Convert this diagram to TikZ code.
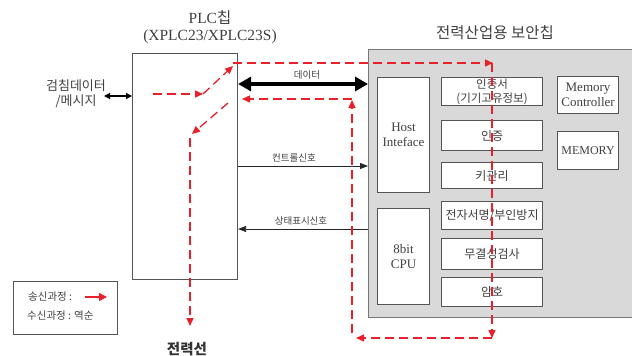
\documentclass[tikz,border=0pt]{standalone}
\usepackage{fontspec}
\setmainfont{Liberation Serif}
\newfontfamily\kr{Noto Sans CJK KR}
\usetikzlibrary{arrows.meta}
\definecolor{txt}{HTML}{404040}
\definecolor{edge}{HTML}{555555}
\definecolor{chip}{HTML}{D9D9D9}
\definecolor{rd}{HTML}{E8202A}
\tikzset{
  box/.style={draw=edge, line width=1.1pt, fill=white, anchor=north west, inner sep=0pt, align=center, text=txt},
  rdash/.style={draw=rd, line width=1.3pt, dash pattern=on 9pt off 5pt, -{Triangle[length=8pt,width=7pt]}},
  thin/.style={draw=black!85, line width=0.8pt, -{Triangle[length=8pt,width=6pt]}},
  lbl/.style={text=txt, inner sep=0pt},
}
\begin{document}
\begin{tikzpicture}[x=1pt,y=-1pt]
\useasboundingbox (0,0) rectangle (632,356);
\clip (0,0) rectangle (632,356);
% titles
\node[lbl, font=\fontsize{15.5}{17}\selectfont, align=center] (plct) at (210,27) {PLC{\kr 칩}\\(XPLC23/XPLC23S)};
\node[lbl, font=\kr\fontsize{15.5}{17}\selectfont] (chipt) at (495,33) {전력산업용 보안칩};
% PLC box
\node[box, minimum width=105pt, minimum height=226pt] (plc) at (132,53) {};
% security chip
\node[draw=edge!80, line width=1.3pt, fill=chip, anchor=north west, minimum width=290pt, minimum height=268pt, inner sep=0pt] (chip) at (368,49) {};
% inner boxes
\node[box, minimum width=52pt, minimum height=115pt, font=\fontsize{13}{15}\selectfont] (host) at (377,77) {Host\\Inteface};
\node[box, minimum width=52pt, minimum height=96pt, font=\fontsize{13}{15}\selectfont] (cpu) at (377,208) {8bit\\CPU};
\node[box, minimum width=101pt, minimum height=28pt, font=\kr\fontsize{11.5}{14}\selectfont] (cert) at (441,77) {인증서\\(기기고유정보)};
\node[box, minimum width=101pt, minimum height=30pt, font=\kr\fontsize{12}{14}\selectfont] (auth) at (441,120) {인증};
\node[box, minimum width=101pt, minimum height=26pt, font=\kr\fontsize{12}{14}\selectfont] (key) at (441,162) {키관리};
\node[box, minimum width=101pt, minimum height=28pt, font=\kr\fontsize{12}{14}\selectfont] (sig) at (441,201) {전자서명/부인방지};
\node[box, minimum width=101pt, minimum height=31pt, font=\kr\fontsize{12}{14}\selectfont] (integ) at (441,238) {무결성검사};
\node[box, minimum width=101pt, minimum height=29pt, font=\kr\fontsize{12}{14}\selectfont] (enc) at (441,277) {암호};
\node[box, minimum width=61pt, minimum height=37pt, font=\fontsize{13}{14.5}\selectfont] (memc) at (557,76) {Memory\\Controller};
\node[box, minimum width=61pt, minimum height=38pt, font=\fontsize{12}{14}\selectfont] (mem) at (557,131) {MEMORY};
% left label
\node[lbl, font=\kr\fontsize{13}{14.5}\selectfont, align=center] (meter) at (76,94) {검침데이터\\/메시지};
\coordinate (mA) at (104,96);
\draw[black, line width=1.2pt, {Triangle[length=6pt,width=6pt]}-{Triangle[length=6pt,width=6pt]}] (mA) -- (plc.west |- mA);
% thick data arrow
\coordinate (dA) at (237,84);
\draw[black, line width=3.2pt, {Triangle[length=13pt,width=14pt]}-{Triangle[length=13pt,width=14pt]}] (plc.east |- dA) -- (chip.west |- dA);
\node[lbl, font=\kr\fontsize{9.5}{11}\selectfont] (dl) at (307,75) {데이터};
% control / status signals
\coordinate (cA) at (237,166);
\draw[thin] (plc.east |- cA) -- (chip.west |- cA);
\node[lbl, font=\kr\fontsize{9.5}{11}\selectfont] (cl) at (294,158) {컨트롤신호};
\coordinate (sA) at (237,229);
\draw[thin] (chip.west |- sA) -- (plc.east |- sA);
\node[lbl, font=\kr\fontsize{9.5}{11}\selectfont] (sl) at (301,221) {상태표시신호};
% red transmit paths
\coordinate (r1) at (153,94);
\coordinate (r2) at (203,94);
\coordinate (r3) at (233,66);
\coordinate (r4) at (233,63);
\coordinate (r5) at (493,63);
\coordinate (r6) at (492,338);
\coordinate (r7) at (356,338);
\coordinate (r8) at (352,333);
\coordinate (r9) at (352,100);
\coordinate (r10) at (352,99);
\coordinate (r11) at (242,99);
\coordinate (s1) at (228,103);
\coordinate (s2) at (192,134);
\coordinate (s3) at (190,138);
\coordinate (s4) at (190,326);
\draw[rdash] (r1) -- (r2);
\draw[rdash] (r2) -- (r3);
\draw[rdash] (r4) -- (r5);
\draw[rdash] (492,63) -- (r6);
\draw[rdash] (r6) -- (r7);
\draw[rdash] (r8) -- (r9);
\draw[rdash] (r10) -- (r11);
\draw[rdash] (s1) -- (s2);
\draw[rdash] (s3) -- (s4);
\node[lbl, font=\kr\bfseries\fontsize{14.5}{16}\selectfont, text=black!80] (line) at (187,349) {전력선};
% legend
\node[draw=edge, line width=1.1pt, anchor=north west, minimum width=104pt, minimum height=53pt, inner sep=0pt] (leg) at (13,281) {};
\node[lbl, font=\kr\fontsize{10.5}{12}\selectfont, anchor=west] (l1) at (28,297) {송신과정 :};
\coordinate (la) at (85,297);
\coordinate (lb) at (107,297);
\draw[rd, line width=1.5pt, -{Triangle[length=8pt,width=8pt]}] (la) -- (lb);
\node[lbl, font=\kr\fontsize{10.5}{12}\selectfont, anchor=west] (l2) at (27,316) {수신과정 : 역순};
\end{tikzpicture}
\end{document}
